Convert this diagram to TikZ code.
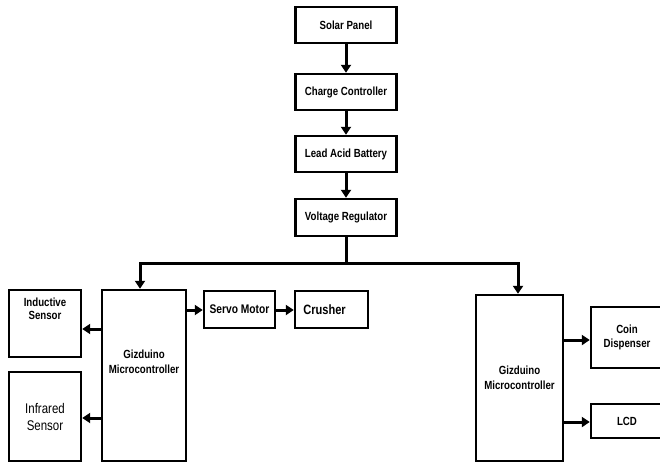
\documentclass[tikz,border=0pt]{standalone}
\usepackage{fontspec}
\setmainfont{Liberation Sans}[FakeStretch=0.82]
\usetikzlibrary{arrows.meta}
\begin{document}
\begin{tikzpicture}[x=1pt,y=-1pt,
  blk/.style={draw,line width=2.4pt,inner sep=1pt,align=center,font=\bfseries\fontsize{11.8}{13.5}\selectfont},
  arr/.style={line width=3pt,-{Triangle[length=8pt,width=10pt]}},
  ln/.style={line width=3pt}]
\useasboundingbox (0,0) rectangle (660,463);
\clip (0,0) rectangle (660,463);
\fill[white] (0,0) rectangle (660,463);
% top chain
\node[blk,minimum width=101pt,minimum height=36pt] (sp) at (346,25) {Solar Panel};
\node[blk,minimum width=101pt,minimum height=36pt] (cc) at (346,92) {Charge Controller};
\node[blk,minimum width=101pt,minimum height=36pt] (lab) at (346,154) {Lead Acid Battery};
\node[blk,minimum width=101pt,minimum height=37pt] (vr) at (346,217.5) {Voltage Regulator};
% left group
\node[blk,minimum width=84pt,minimum height=171pt] (g1) at (144,375.5) {Gizduino\\[1pt]Microcontroller\\[14pt]};
\node[blk,minimum width=72pt,minimum height=67pt] (ind) at (45,323.5) {Inductive\\Sensor\\[16pt]};
\node[blk,minimum width=72pt,minimum height=89pt,font=\fontsize{14}{17}\selectfont] (ir) at (45,416.5) {Infrared\\Sensor};
\node[blk,minimum width=71pt,minimum height=37pt,font=\bfseries\fontsize{12.5}{15}\selectfont] (sm) at (239.5,309.5) {Servo Motor};
\node[blk,minimum width=73pt,minimum height=37pt,font=\bfseries\fontsize{13.5}{15}\selectfont] (cr) at (331.5,309.5) {Crusher\hspace*{14pt}};
% right group
\node[blk,minimum width=87pt,minimum height=166pt] (g2) at (519.5,378) {Gizduino\\[1pt]Microcontroller};
\node[blk,minimum width=72pt,minimum height=61pt] (cd) at (627,337.5) {Coin\\Dispenser};
\node[blk,minimum width=72pt,minimum height=34pt] (lcd) at (627,421) {LCD};
% connectors
\draw[arr] (sp) -- (cc);
\draw[arr] (cc) -- (lab);
\draw[arr] (lab) -- (vr);
\coordinate (bm) at (346,263);
\coordinate (bl) at (140,263);
\coordinate (br) at (518,263);
\draw[ln] (vr.south) -- (bm);
\draw[arr] (bm) -- (bl) -- (bl |- g1.north);
\draw[arr] (bm) -- (br) -- (br |- g2.north);
\coordinate (y1) at (0,329);
\coordinate (y2) at (0,418);
\coordinate (y3) at (0,310);
\coordinate (y4) at (0,340);
\coordinate (y5) at (0,422);
\draw[arr] (g1.west |- y1) -- (ind.east |- y1);
\draw[arr] (g1.west |- y2) -- (ir.east |- y2);
\draw[arr] (g1.east |- y3) -- (sm.west |- y3);
\draw[arr] (sm.east |- y3) -- (cr.west |- y3);
\draw[arr] (g2.east |- y4) -- (cd.west |- y4);
\draw[arr] (g2.east |- y5) -- (lcd.west |- y5);
\end{tikzpicture}
\end{document}
